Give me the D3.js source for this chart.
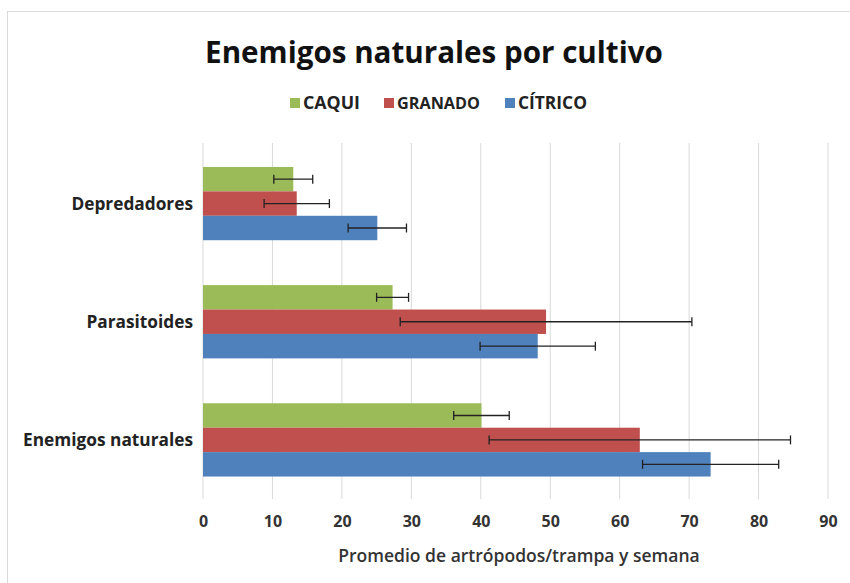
<!DOCTYPE html>
<html><head><meta charset="utf-8">
<script src="https://cdn.jsdelivr.net/npm/d3@7"></script>
<style>body{margin:0;background:#fff}svg{display:block}text{font-family:"Open Sans",Lato,sans-serif}</style>
</head><body>
<script>
const categories = ["Depredadores", "Parasitoides", "Enemigos naturales"];
const seriesNames = ["CAQUI", "GRANADO", "CÍTRICO"];
const seriesColors = ["#9BBB59", "#C0504D", "#4F81BD"];
const caqui = [13.0, 27.3, 40.1];
const caquiErr = [2.8, 2.3, 4.0];
const granado = [13.5, 49.4, 62.9];
const granadoErr = [4.7, 21.0, 21.7];
const citrico = [25.1, 48.2, 73.1];
const citricoErr = [4.2, 8.3, 9.8];
const xTicks = [0, 10, 20, 30, 40, 50, 60, 70, 80, 90];

const values = [caqui, granado, citrico];
const errs = [caquiErr, granadoErr, citricoErr];

const W = 850, H = 583;
const svg = d3.select("body").append("svg").attr("width", W).attr("height", H);
svg.append("rect").attr("x", 7.5).attr("y", 11.5).attr("width", W).attr("height", H)
  .attr("fill", "#fff").attr("stroke", "#d9d9d9");

function fit(sel, target) {
  sel.each(function() {
    const t = d3.select(this);
    const fs = parseFloat(t.attr("font-size"));
    const w = this.getComputedTextLength();
    if (w > 0) t.attr("font-size", fs * target / w);
  });
}

const x = d3.scaleLinear().domain([0, 90]).range([203, 828]);
const y0 = d3.scaleBand().domain(categories).range([144.5, 499]).paddingInner(0.38).paddingOuter(0.19);
const y1 = d3.scaleBand().domain(seriesNames).range([0, y0.bandwidth()]);

// gridlines
svg.append("g").selectAll("line").data(xTicks).join("line")
  .attr("x1", d => x(d)).attr("x2", d => x(d))
  .attr("y1", 143).attr("y2", 499)
  .attr("stroke", "#d9d9d9").attr("stroke-width", 1);

// bars
const groups = svg.append("g").selectAll("g").data(categories).join("g")
  .attr("transform", c => `translate(0,${y0(c)})`);
seriesNames.forEach((s, si) => {
  groups.append("rect")
    .attr("x", x(0))
    .attr("y", y1(s))
    .attr("width", (c, ci) => x(values[si][ci]) - x(0))
    .attr("height", y1.bandwidth())
    .attr("fill", seriesColors[si]);
});
// error bars
seriesNames.forEach((s, si) => {
  groups.each(function(c, ci) {
    const g = d3.select(this);
    const v = values[si][ci], e = errs[si][ci];
    const cy = y1(s) + y1.bandwidth() / 2;
    g.append("line").attr("x1", x(v - e)).attr("x2", x(v + e)).attr("y1", cy).attr("y2", cy)
      .attr("stroke", "#222").attr("stroke-width", 1.3);
    [v - e, v + e].forEach(p => {
      g.append("line").attr("x1", x(p)).attr("x2", x(p)).attr("y1", cy - 4.5).attr("y2", cy + 4.5)
        .attr("stroke", "#222").attr("stroke-width", 1.3);
    });
  });
});

// category labels
const catLab = svg.append("g").selectAll("text").data(categories).join("text")
  .attr("x", 193).attr("y", c => y0(c) + y0.bandwidth() / 2)
  .attr("dy", "0.35em").attr("text-anchor", "end")
  .attr("font-size", 16).attr("font-weight", "bold").attr("fill", "#222")
  .attr("letter-spacing", 0)
  .text(d => d);
// scale all category labels by the same factor (reference: "Enemigos naturales" ≈ 170px)
(function() {
  const node = catLab.filter(d => d === "Enemigos naturales").node();
  const f = 170 / node.getComputedTextLength();
  catLab.attr("font-size", 16 * f);
})();

// x axis tick labels
const xAxis = d3.axisBottom(x).tickValues(xTicks).tickSize(0).tickPadding(0);
const ax = svg.append("g").attr("transform", "translate(0,516)").call(xAxis);
ax.select(".domain").remove();
ax.selectAll("text").attr("font-size", 16).attr("font-weight", "bold").attr("fill", "#333")
  .attr("font-family", "'Open Sans', sans-serif");

// axis title
const at = svg.append("text").attr("x", 519).attr("y", 562).attr("text-anchor", "middle")
  .attr("font-size", 15).attr("font-weight", "600").attr("fill", "#333")
  .text("Promedio de artrópodos/trampa y semana");
fit(at, 362);

// title
const tt = svg.append("text").attr("x", 434).attr("y", 63).attr("text-anchor", "middle")
  .attr("font-size", 28).attr("font-weight", "bold").attr("fill", "#111")
  .text("Enemigos naturales por cultivo");
fit(tt, 458);

// legend
const legX = [290, 384, 505];
const legW = [57, 83, 69];
const leg = svg.append("g").selectAll("g").data(seriesNames).join("g")
  .attr("transform", (d, i) => `translate(${legX[i]},103)`);
leg.append("rect").attr("x", 0).attr("y", -5).attr("width", 10).attr("height", 10)
  .attr("fill", (d, i) => seriesColors[i]);
const lt = leg.append("text").attr("x", 13).attr("dy", "0.36em").attr("font-size", 14)
  .attr("font-weight", "bold").attr("fill", "#222").text(d => d);
lt.each(function(d, i) { fit(d3.select(this), legW[i]); });
</script>
</body></html>
